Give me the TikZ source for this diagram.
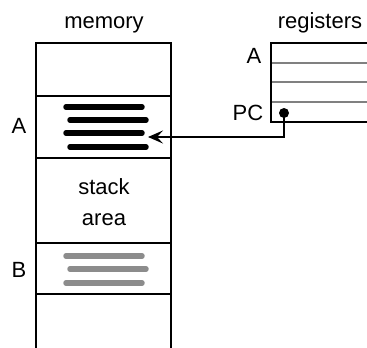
\documentclass[tikz,border=0pt]{standalone}
\usepackage{fontspec}
\setmainfont{Liberation Sans}
\usetikzlibrary{arrows.meta,calc}

\begin{document}
\begin{tikzpicture}[x=1pt,y=-1pt,
    lbl/.style={font=\fontsize{22}{26}\selectfont,inner sep=0pt,anchor=base},
    frame/.style={line width=2.2pt},
    cell/.style={line width=1.7pt},
    reg/.style={line width=1.5pt,gray},
    code/.style={line width=5.5pt,line cap=round},
    dim code/.style={code,gray!90}]
    \useasboundingbox (0,0) rectangle (367,348);

    % memory
    \coordinate (mtl) at (36,43);
    \coordinate (mtr) at (171,43);
    \draw[frame] (36,348) -- (mtl) -- (mtr) -- (171,348);
    \foreach \y in {96,158,243,294}
      \draw[cell] (36,\y) -- (171,\y);

    \node (mem) [lbl] at (104,28) {memory};
    \node (la) [lbl] at (19,133) {A};
    \node (lb) [lbl] at (19,277) {B};
    \node (stk) [lbl] at (104,194) {stack};
    \node (area) [lbl] at (104,225) {area};

    % block A, block B
    \foreach \y/\s in {107/0,120/4,133/0,147/4}
      \draw[code] (66+\s,\y) -- (142+\s,\y);
    \foreach \y/\s in {256/0,269/4,283/0}
      \draw[dim code] (66+\s,\y) -- (142+\s,\y);

    % registers
    \foreach \y in {63,82,102}
      \draw[reg] (271,\y) -- (367,\y);
    \draw[frame] (367,43) -- (271,43) -- (271,122) -- (367,122);

    \node (regs) [lbl] at (320,28) {registers};
    \node (ra) [lbl] at (254,63) {A};
    \node (pc) [lbl] at (248,120) {PC};

    \node (dot) [circle,fill,inner sep=0pt,minimum size=10pt] at (284,113) {};
    \coordinate (tgt) at (148,137);
    \draw[line width=2pt,-{Stealth[length=15pt,width=13pt,inset=6pt]}] (dot.center) |- (tgt);

  \end{tikzpicture}
\end{document}
